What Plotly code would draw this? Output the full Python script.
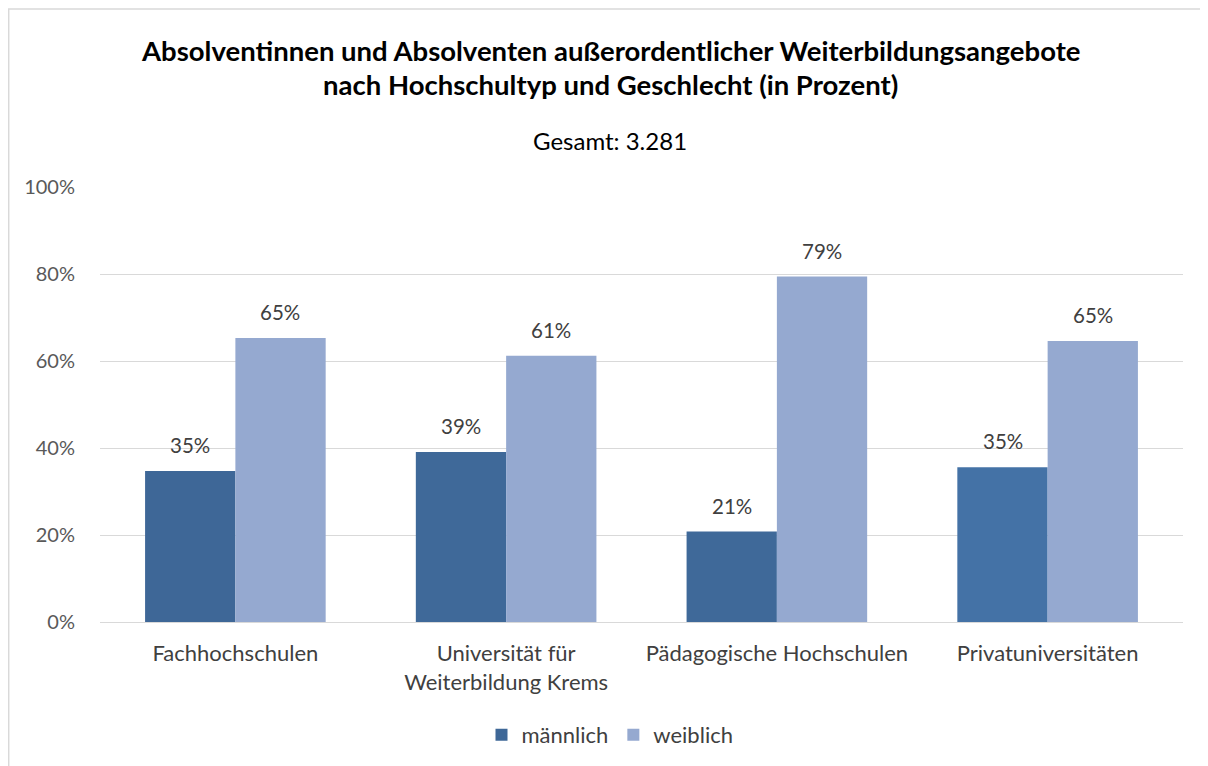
import plotly.graph_objects as go

categories = ["Fachhochschulen", "Universität für<br>Weiterbildung Krems",
              "Pädagogische Hochschulen", "Privatuniversitäten"]
maennlich = [34.7, 39.1, 20.8, 35.6]
weiblich = [65.3, 61.2, 79.4, 64.6]
labels_m = ["35%", "39%", "21%", "35%"]
labels_w = ["65%", "61%", "79%", "65%"]
tick_vals = [0, 20, 40, 60, 80, 100]
tick_text = ["0%", "20%", "40%", "60%", "80%", "100%"]

male_colors = ["#3E6797", "#3F6999", "#3F6999", "#4472A6"]
female_color = "#95A9D0"
FONT = "Lato"

# plot area in screen pixels (page has 8px body offset)
PX0, PX1, PY0, PY1 = 100, 1183, 187, 622
PW, PH = PX1 - PX0, PY1 - PY0


def py(y):
    return (PY1 - y) / PH


def px(x):
    return (x - PX0) / PW


fig = go.Figure()
fig.add_trace(go.Bar(x=categories, y=maennlich, name="männlich",
                     marker=dict(color=male_colors, line=dict(width=0))))
fig.add_trace(go.Bar(x=categories, y=weiblich, name="weiblich",
                     marker=dict(color=female_color, line=dict(width=0))))

for i, c in enumerate(categories):
    fig.add_annotation(x=c, y=maennlich[i], text=labels_m[i], showarrow=False,
                       xshift=-45, yshift=26, font=dict(size=20.5, color="#404040", family=FONT))
    fig.add_annotation(x=c, y=weiblich[i], text=labels_w[i], showarrow=False,
                       xshift=45, yshift=26, font=dict(size=20.5, color="#404040", family=FONT))

fig.add_annotation(xref="paper", yref="paper", x=px(610), y=py(52 - 20),
                   text="<b>Absolventinnen und Absolventen außerordentlicher Weiterbildungsangebote</b>",
                   showarrow=False, font=dict(size=27.5, color="#000000", family=FONT))
fig.add_annotation(xref="paper", yref="paper", x=px(610), y=py(87 - 21),
                   text="<b>nach Hochschultyp und Geschlecht (in Prozent)</b>",
                   showarrow=False, font=dict(size=27.5, color="#000000", family=FONT))
fig.add_annotation(xref="paper", yref="paper", x=px(610), y=py(138 - 14),
                   text="Gesamt: 3.281", showarrow=False,
                   font=dict(size=24, color="#000000", family=FONT))

fig.add_shape(type="rect", xref="paper", yref="paper",
              x0=px(8.7), x1=px(1240), y0=py(800), y1=py(9),
              line=dict(color="#D9D9D9", width=1.5), fillcolor="rgba(0,0,0,0)", layer="below")

fig.update_layout(
    width=1208, height=766,
    margin=dict(l=PX0 - 8, r=1208 - (PX1 - 8), t=PY0 - 8, b=766 - (PY1 - 8)),
    paper_bgcolor="white", plot_bgcolor="white",
    barmode="group", bargap=0.333, bargroupgap=0,
    font=dict(family=FONT, color="#595959", size=20),
    showlegend=True,
    legend=dict(orientation="h", x=px(610), xanchor="center",
                y=py(735), yanchor="middle",
                font=dict(size=22, color="#404040", family=FONT),
                itemwidth=30, tracegroupgap=0),
    xaxis=dict(showgrid=False, showline=True, linecolor="#D9D9D9", linewidth=1,
               ticks="outside", ticklen=12, tickcolor="rgba(0,0,0,0)",
               tickfont=dict(size=22, color="#404040", family=FONT)),
    yaxis=dict(range=[0, 100], tickvals=tick_vals, ticktext=tick_text,
               showgrid=True, gridcolor="#D9D9D9", gridwidth=1,
               zeroline=False, showline=False,
               ticks="outside", ticklen=20, tickcolor="rgba(0,0,0,0)",
               tickfont=dict(size=20, color="#595959", family=FONT)),
)

fig.write_html("out.html")
